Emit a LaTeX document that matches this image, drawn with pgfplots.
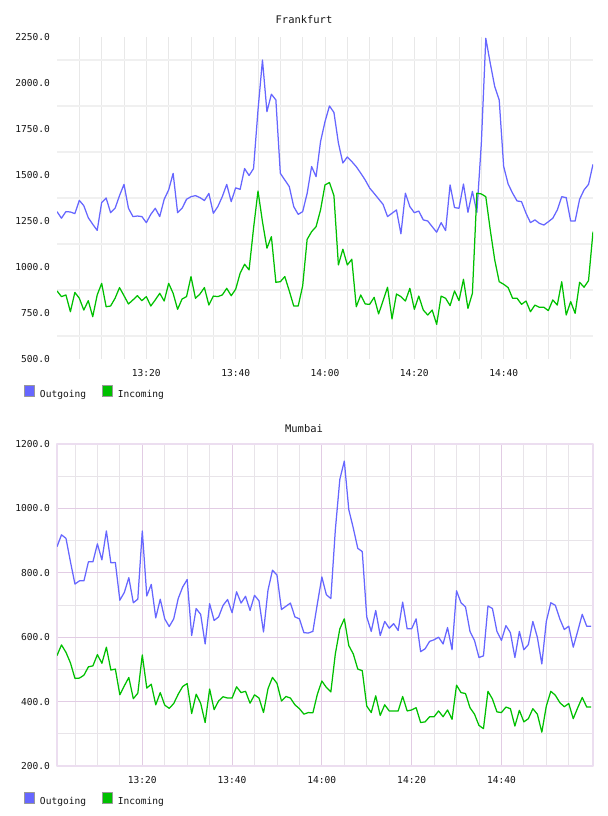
\documentclass[border=0pt]{standalone}
\usepackage{fontspec}
\setmainfont{DejaVu Sans Mono}
\usepackage{pgfplots}
\usepackage{pgfplotstable}
\pgfplotsset{compat=1.18}

\definecolor{outblue}{RGB}{102,102,255}
\definecolor{ingreen}{RGB}{0,192,0}
\definecolor{hgrid}{RGB}{240,240,240}
\definecolor{vgrid}{RGB}{232,232,232}
\definecolor{mgridpurple}{RGB}{226,204,228}
\definecolor{mgridgray}{RGB}{232,228,233}
\definecolor{framepurple}{RGB}{236,222,240}
\definecolor{labelgray}{RGB}{20,20,20}

% Frankfurt traffic, one sample per minute from 13:00 (t = minutes after 13:00)
\pgfplotstableread{
t out in
0 1301 870
1 1265 839
2 1301 848
3 1299 757
4 1290 862
5 1362 830
6 1333 766
7 1268 817
8 1232 730
9 1199 848
10 1350 911
11 1375 784
12 1295 788
13 1319 830
14 1388 888
15 1449 844
16 1319 799
17 1274 821
18 1277 844
19 1274 817
20 1241 839
21 1286 788
22 1319 821
23 1274 857
24 1368 815
25 1419 911
26 1509 857
27 1295 770
28 1319 826
29 1368 839
30 1382 948
31 1388 830
32 1377 853
33 1361 888
34 1400 793
35 1292 842
36 1328 839
37 1382 848
38 1449 884
39 1355 844
40 1430 879
41 1422 966
42 1535 1015
43 1497 984
44 1535 1210
45 1853 1413
46 2125 1246
47 1844 1102
48 1939 1165
49 1908 917
50 1509 920
51 1473 948
52 1437 870
53 1328 788
54 1286 788
55 1301 897
56 1400 1150
57 1546 1192
58 1491 1219
59 1681 1310
60 1790 1446
61 1875 1459
62 1840 1388
63 1674 1011
64 1565 1097
65 1598 1011
66 1573 1042
67 1545 784
68 1510 848
69 1473 799
70 1429 797
71 1400 835
72 1370 745
73 1340 817
74 1274 890
75 1292 718
76 1310 853
77 1180 839
78 1401 815
79 1328 884
80 1295 770
81 1304 842
82 1256 766
83 1250 739
84 1219 766
85 1189 688
86 1241 842
87 1198 830
88 1446 790
89 1323 870
90 1319 817
91 1451 933
92 1297 775
93 1411 857
94 1297 1401
95 1672 1397
96 2243 1382
97 2107 1201
98 1980 1038
99 1908 920
100 1546 906
101 1451 888
102 1401 830
103 1359 830
104 1355 797
105 1292 815
106 1241 757
107 1256 793
108 1237 781
109 1228 781
110 1246 763
111 1265 821
112 1310 793
113 1382 920
114 1377 739
115 1250 812
116 1250 748
117 1368 917
118 1419 890
119 1449 926
120 1558 1192
}\frankfurt

% Mumbai traffic, one sample per minute from 13:01
\pgfplotstableread{
t out in
1 881 543
2 918 576
3 907 553
4 834 520
5 765 472
6 775 473
7 775 482
8 834 508
9 834 511
10 890 546
11 840 519
12 930 569
13 831 498
14 832 501
15 715 421
16 739 449
17 785 475
18 707 409
19 718 426
20 930 545
21 728 442
22 764 454
23 660 390
24 718 428
25 657 389
26 633 379
27 657 394
28 720 423
29 756 447
30 779 456
31 605 363
32 689 423
33 671 395
34 579 335
35 704 439
36 652 375
37 663 402
38 699 415
39 717 411
40 676 411
41 741 446
42 706 428
43 727 432
44 683 395
45 730 421
46 713 411
47 616 366
48 746 440
49 808 475
50 793 457
51 686 402
52 696 416
53 706 411
54 663 390
55 657 378
56 614 361
57 613 366
58 618 365
59 704 423
60 787 464
61 732 444
62 720 430
63 933 548
64 1090 626
65 1147 657
66 996 574
67 939 548
68 876 501
69 866 496
70 663 386
71 618 366
72 683 418
73 605 357
74 649 390
75 628 371
76 642 371
77 621 371
78 709 416
79 626 371
80 626 374
81 657 381
82 555 335
83 564 337
84 587 353
85 592 353
86 600 371
87 579 353
88 630 374
89 561 345
90 744 451
91 707 428
92 694 425
93 618 381
94 590 361
95 537 326
96 542 316
97 697 432
98 689 408
99 618 368
100 590 366
101 636 383
102 614 378
103 537 324
104 618 373
105 561 337
106 577 347
107 649 378
108 600 361
109 517 305
110 649 386
111 707 432
112 699 420
113 657 397
114 624 384
115 634 394
116 569 347
117 619 381
118 671 413
119 634 383
120 634 383
}\mumbai

\pgfplotsset{
  traffic/.style={
    scale only axis, width=536bp, height=322bp, anchor=south west,
    major tick length=0pt, minor tick length=0pt, tick style={draw=none},
    scaled ticks=false,
    /pgf/number format/assume math mode=true,
    ticklabel style={font=\fontsize{9.6}{11}\selectfont, text=labelgray},
    yticklabel style={anchor=east, inner sep=0pt, xshift=-7bp,
      /pgf/number format/fixed, /pgf/number format/fixed zerofill,
      /pgf/number format/precision=1, /pgf/number format/1000 sep={}},
    xticklabel style={anchor=north, inner sep=0pt, yshift=-10bp},
    xtick={20,40,60,80,100},
    xticklabels={13:20,13:40,14:00,14:20,14:40},
    minor xtick={5,10,15,25,30,35,45,50,55,65,70,75,85,90,95,105,110,115},
    line join=round,
    legend columns=2,
    legend style={draw=none, fill=none, inner sep=0pt, at={(0,0)},
      xshift=-33bp, yshift=-33bp, anchor=west,
      font=\fontsize{9.6}{11}\selectfont, text=labelgray,
      nodes={inner sep=0pt},
      /tikz/every odd column/.append style={column sep=5bp},
      /tikz/every even column/.append style={column sep=16bp}},
  },
  sq/.style={legend image code/.code={%
    \draw[fill=#1, draw=gray!80, line width=0.8bp] (0bp,-2bp) rectangle (10bp,9bp);}},
}

\begin{document}
\begin{tikzpicture}
\useasboundingbox (0,0) rectangle (608bp,816bp);

% ---------------- Frankfurt ----------------
\node[font=\fontsize{10.5}{12}\selectfont, text=labelgray] at (304bp,796bp) {Frankfurt};
\begin{axis}[traffic, at={(57bp,457bp)},
  xmin=0, xmax=120, ymin=500, ymax=2250,
  ytick={500,750,...,2250},
  minor ytick={625,875,...,2125},
  axis line style={draw=none},
  xmajorgrids, xminorgrids, yminorgrids,
  major x grid style={vgrid, line width=0.8bp},
  minor x grid style={vgrid, line width=0.8bp},
  minor y grid style={hgrid, line width=1.8bp},
]
\addlegendimage{sq=outblue}\addlegendentry{Outgoing}
\addlegendimage{sq=ingreen}\addlegendentry{Incoming}
\addplot[forget plot, outblue, line width=1.25bp] table[x=t, y=out] {\frankfurt};
\addplot[forget plot, ingreen, line width=1.25bp] table[x=t, y=in] {\frankfurt};
\end{axis}

% ---------------- Mumbai ----------------
\node[font=\fontsize{10.5}{12}\selectfont, text=labelgray] at (304bp,387bp) {Mumbai};
\begin{axis}[traffic, at={(57bp,50bp)},
  xmin=1, xmax=120.4, ymin=200, ymax=1200,
  ytick={200,400,...,1200},
  minor ytick={300,500,...,1100},
  axis line style={framepurple, line width=1.6bp},
  grid=both,
  major grid style={mgridpurple, line width=0.8bp},
  minor grid style={mgridgray, line width=0.8bp},
]
\addlegendimage{sq=outblue}\addlegendentry{Outgoing}
\addlegendimage{sq=ingreen}\addlegendentry{Incoming}
\addplot[forget plot, outblue, line width=1.25bp] table[x=t, y=out] {\mumbai};
\addplot[forget plot, ingreen, line width=1.25bp] table[x=t, y=in] {\mumbai};
\end{axis}
\end{tikzpicture}
\end{document}
